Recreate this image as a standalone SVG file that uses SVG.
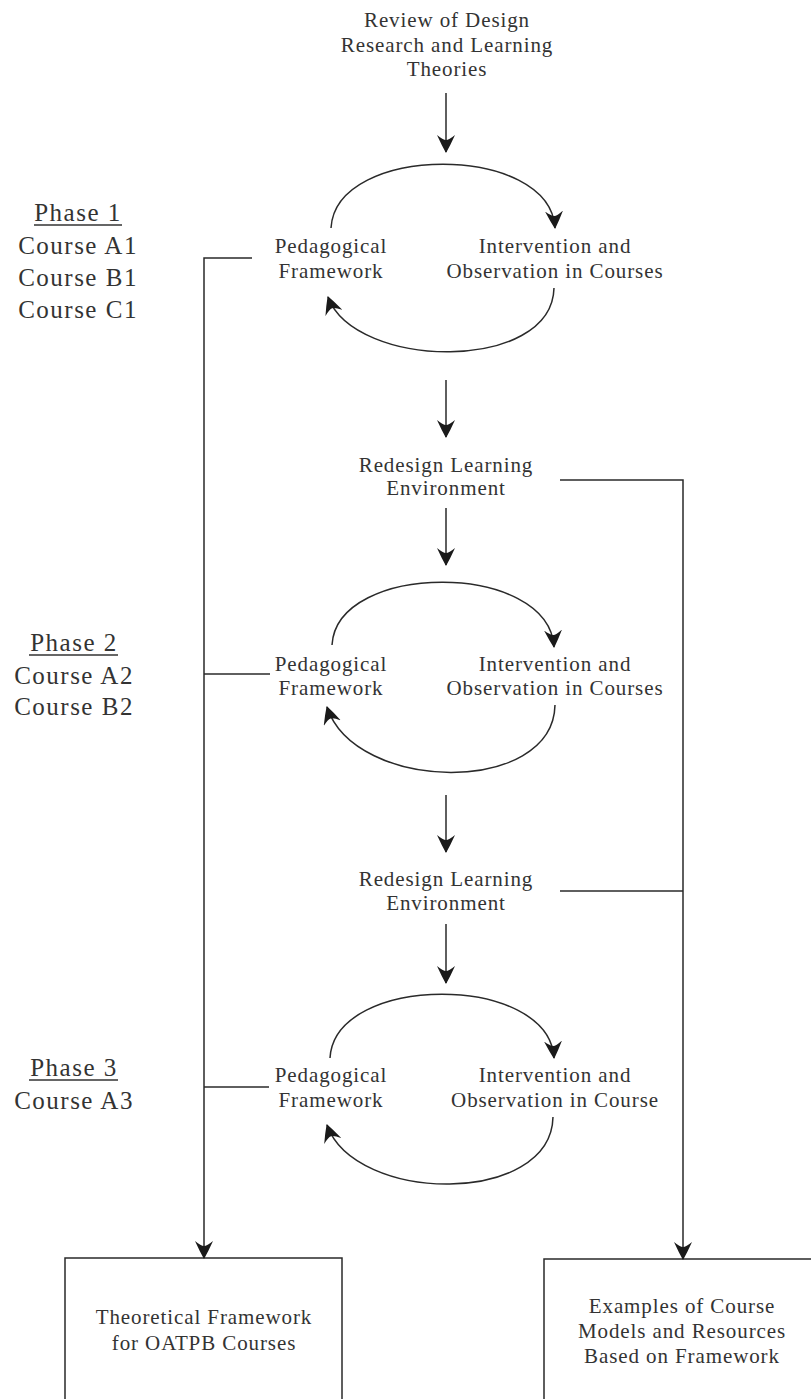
<svg xmlns="http://www.w3.org/2000/svg" width="811" height="1399" viewBox="0 0 811 1399">
<defs>
<style>
text{font-family:'Liberation Serif','Times New Roman',serif}
.t{font-size:21px;letter-spacing:0.9px;fill:#333;text-anchor:middle}
.p{font-size:25px;letter-spacing:1.5px;fill:#333;text-anchor:middle}
.ln{fill:none;stroke:#2a2a2a;stroke-width:1.5}
.box{fill:none;stroke:#2a2a2a;stroke-width:1.5}
.ul{stroke:#333;stroke-width:1.6}
</style>
<marker id="ah" markerUnits="userSpaceOnUse" markerWidth="18" markerHeight="18" viewBox="0 0 18 18" refX="17" refY="9" orient="auto">
<path d="M18,9 Q10,4.5 0,0 Q5,6 5,9 Q5,12 0,18 Q10,13.5 18,9 Z" fill="#1a1a1a"/>
</marker>
</defs>
<rect width="811" height="1399" fill="#fff"/>

<g id="review">
<text class="t" x="447" y="27">Review of Design</text>
<text class="t" x="447" y="52">Research and Learning</text>
<text class="t" x="447" y="76">Theories</text>
</g>

<g id="phase1-label">
<text class="p" x="78" y="221">Phase 1</text>
<line class="ul" x1="34" y1="225" x2="122" y2="225"/>
<text class="p" x="78" y="254">Course A1</text>
<text class="p" x="78" y="286">Course B1</text>
<text class="p" x="78" y="318">Course C1</text>
</g>
<g id="phase2-label">
<text class="p" x="74" y="651">Phase 2</text>
<line class="ul" x1="29" y1="655" x2="118" y2="655"/>
<text class="p" x="74" y="684">Course A2</text>
<text class="p" x="74" y="715">Course B2</text>
</g>
<g id="phase3-label">
<text class="p" x="74" y="1076">Phase 3</text>
<line class="ul" x1="29" y1="1080" x2="118" y2="1080"/>
<text class="p" x="74" y="1109">Course A3</text>
</g>

<g id="ped1"><text class="t" x="331" y="253">Pedagogical</text><text class="t" x="331" y="278">Framework</text></g>
<g id="int1"><text class="t" x="555" y="253">Intervention and</text><text class="t" x="555" y="278">Observation in Courses</text></g>
<g id="redesign1"><text class="t" x="446" y="472">Redesign Learning</text><text class="t" x="446" y="495">Environment</text></g>
<g id="ped2"><text class="t" x="331" y="671">Pedagogical</text><text class="t" x="331" y="695">Framework</text></g>
<g id="int2"><text class="t" x="555" y="671">Intervention and</text><text class="t" x="555" y="695">Observation in Courses</text></g>
<g id="redesign2"><text class="t" x="446" y="886">Redesign Learning</text><text class="t" x="446" y="910">Environment</text></g>
<g id="ped3"><text class="t" x="331" y="1082">Pedagogical</text><text class="t" x="331" y="1107">Framework</text></g>
<g id="int3"><text class="t" x="555" y="1082">Intervention and</text><text class="t" x="555" y="1107">Observation in Course</text></g>

<g id="box-theory">
<rect class="box" x="65" y="1258" width="277" height="160"/>
<text class="t" x="204" y="1324">Theoretical Framework</text>
<text class="t" x="204" y="1350">for OATPB Courses</text>
</g>
<g id="box-examples">
<rect class="box" x="544" y="1259" width="300" height="160"/>
<text class="t" x="682" y="1313">Examples of Course</text>
<text class="t" x="682" y="1338">Models and Resources</text>
<text class="t" x="682" y="1363">Based on Framework</text>
</g>

<g id="connectors">
<line class="ln" x1="446" y1="93" x2="446" y2="152" marker-end="url(#ah)"/>
<path class="ln" d="M331,228 C336,143 550,143 555,228" marker-end="url(#ah)"/>
<path class="ln" d="M554,288 C552,373 355,370 328,297" marker-end="url(#ah)"/>
<line class="ln" x1="446" y1="380" x2="446" y2="437" marker-end="url(#ah)"/>
<line class="ln" x1="446" y1="508" x2="446" y2="565" marker-end="url(#ah)"/>
<path class="ln" d="M332,645 C337,561 549,561 554,647" marker-end="url(#ah)"/>
<path class="ln" d="M555,705 C553,796 355,793 327,707" marker-end="url(#ah)"/>
<line class="ln" x1="446" y1="795" x2="446" y2="852" marker-end="url(#ah)"/>
<line class="ln" x1="446" y1="924" x2="446" y2="983" marker-end="url(#ah)"/>
<path class="ln" d="M330,1058 C335,973 549,973 554,1058" marker-end="url(#ah)"/>
<path class="ln" d="M553,1117 C551,1206 355,1204 327,1125" marker-end="url(#ah)"/>
<polyline class="ln" points="252,258 204,258 204,1258" marker-end="url(#ah)"/>
<line class="ln" x1="204" y1="674" x2="270" y2="674"/>
<line class="ln" x1="204" y1="1087" x2="269" y2="1087"/>
<polyline class="ln" points="560,480 683,480 683,1259" marker-end="url(#ah)"/>
<line class="ln" x1="560" y1="891" x2="683" y2="891"/>
</g>
</svg>
